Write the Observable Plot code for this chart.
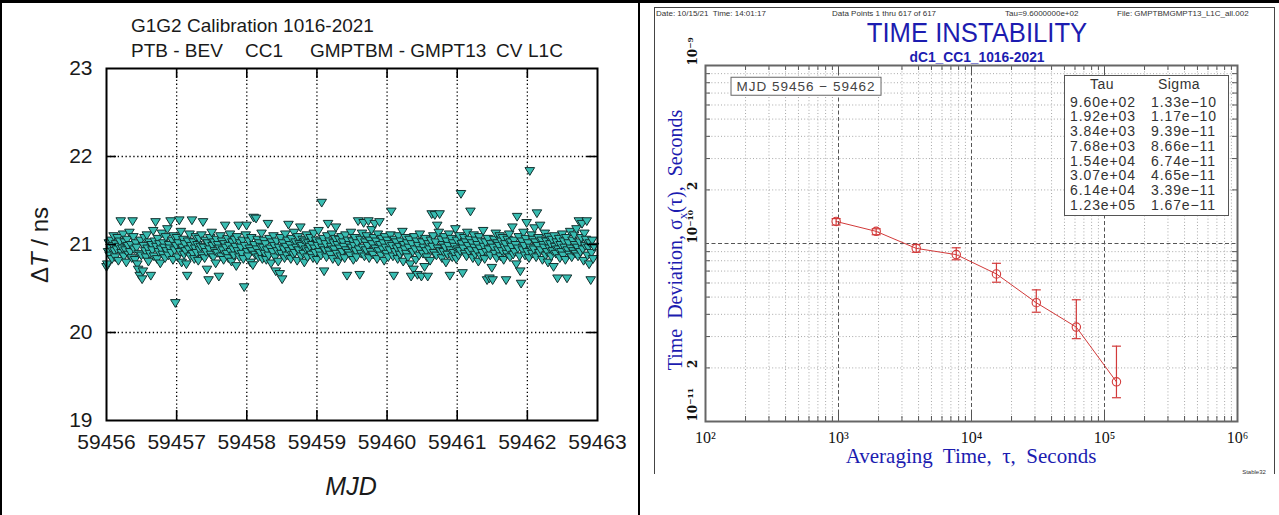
<!DOCTYPE html>
<html><head><meta charset="utf-8">
<script src="https://cdn.jsdelivr.net/npm/d3@7"></script>
<script src="https://cdn.jsdelivr.net/npm/@observablehq/plot@0.6"></script>
<style>
html,body{margin:0;padding:0;background:#fff;}
#wrap{position:relative;width:1279px;height:515px;overflow:hidden;background:#fff;font-family:"Liberation Sans",Arial,sans-serif;}
.t{position:absolute;white-space:pre;line-height:1;}
.line{position:absolute;background:#000;}
#wrap svg{position:absolute;top:0;}
</style></head><body><div id="wrap"></div>
<script>
// ---------- Left chart data ----------
const leftTitle = "G1G2 Calibration 1016-2021";
const leftSubParts = ["PTB - BEV", "CC1", "GMPTBM - GMPT13", "CV", "L1C"];
const mjdStart = 59456.0;     // first sample (MJD)
const mjdStep = 0.01128;      // sample spacing (days)
const mjdTicks = [59456, 59457, 59458, 59459, 59460, 59461, 59462, 59463];
const dTTicks = [19, 20, 21, 22, 23];
const dT = [
20.75,20.78,20.92,21.02,20.88,20.97,21.05,20.84,20.99,21.10,20.93,20.86,21.01,20.95,21.08,20.82,20.98,21.04,21.27,20.91,
20.96,21.12,20.87,21.03,20.94,20.80,21.06,20.99,20.89,21.14,20.92,21.00,20.85,21.27,21.09,20.95,20.83,21.02,20.97,20.78,
20.72,20.90,20.65,21.05,20.88,20.61,20.70,20.99,21.08,20.93,20.86,21.11,20.96,20.81,21.03,20.90,20.65,21.00,20.94,21.16,
20.87,21.04,21.26,20.98,20.84,21.07,20.92,21.01,20.79,20.95,21.13,20.89,21.02,20.97,20.85,21.09,20.93,21.18,20.88,21.00,
20.96,21.27,20.91,21.05,20.83,21.10,20.94,20.34,20.99,21.08,20.86,21.02,21.28,20.92,21.15,20.80,20.97,21.06,20.89,21.01,
20.93,20.78,20.65,21.04,20.95,21.12,20.87,20.99,21.28,20.90,21.03,20.84,20.96,21.09,20.91,21.00,20.82,21.07,20.94,20.98,
21.11,20.88,21.26,20.97,20.85,21.05,20.92,20.72,21.02,20.60,20.95,21.08,20.89,21.14,20.99,20.86,21.03,20.93,20.79,21.06,
20.91,21.00,20.64,20.96,21.10,20.87,21.04,20.94,20.83,21.01,21.22,20.97,20.90,21.07,20.85,20.99,21.12,20.92,20.81,21.03,
20.95,20.88,21.06,20.98,20.76,21.09,20.93,21.22,20.86,21.02,20.97,20.90,21.05,20.84,20.52,20.99,21.11,21.22,20.92,20.87,
21.04,20.96,20.80,21.08,20.93,20.77,21.31,21.00,20.89,21.30,20.95,21.06,20.86,21.02,20.91,20.98,21.13,20.84,20.97,21.05,
20.90,21.01,20.83,20.94,21.24,20.88,21.07,20.96,20.79,21.03,20.92,21.10,20.99,20.86,20.70,21.04,20.93,20.81,20.97,20.67,
21.08,20.90,20.61,21.02,20.95,20.85,21.12,20.98,20.88,21.05,21.23,20.93,21.00,20.84,21.07,20.96,20.89,21.14,20.91,21.03,
20.97,20.82,21.09,20.94,21.01,21.20,20.87,20.99,21.06,20.90,20.80,21.04,20.95,21.11,20.86,21.02,20.93,20.98,21.08,20.89,
21.00,20.85,21.13,20.96,20.91,21.05,20.83,20.99,21.16,20.92,21.03,20.88,21.48,20.97,21.07,20.70,20.94,21.01,20.86,21.10,
21.24,20.93,21.04,20.89,20.98,21.12,20.84,21.02,20.95,21.07,21.20,20.90,21.00,20.81,21.06,20.96,20.87,21.09,20.92,21.03,
20.98,20.85,21.11,20.94,20.65,21.05,20.91,21.00,20.88,21.14,20.97,21.04,20.83,20.99,21.08,20.93,20.86,21.02,21.27,20.95,
20.66,21.06,20.90,21.13,20.97,21.25,20.87,21.03,20.94,21.10,20.99,21.27,20.85,21.05,20.92,21.17,21.01,20.89,21.08,21.24,
20.96,21.04,20.84,21.12,20.93,21.26,21.00,20.88,21.07,20.95,21.02,20.82,21.09,20.97,20.90,21.05,20.86,21.01,20.94,21.11,
21.38,20.99,20.87,20.65,21.06,20.92,21.03,20.96,20.84,21.10,20.98,20.89,21.04,20.93,21.15,20.81,21.00,20.95,21.08,20.90,
21.02,20.86,20.97,21.06,20.78,20.64,21.01,20.92,20.72,21.09,20.95,20.83,21.04,20.66,20.99,20.88,21.12,20.94,20.64,21.03,
20.90,20.97,20.75,21.07,20.93,20.86,20.64,21.01,20.95,20.82,21.05,21.35,20.98,21.10,20.91,21.34,21.03,20.88,21.22,20.96,
21.14,21.35,20.93,21.06,20.85,21.00,20.92,21.09,20.97,20.80,21.04,20.89,20.99,21.12,20.65,20.94,21.07,20.86,21.02,20.91,
20.98,21.18,20.84,21.05,20.95,20.88,21.10,20.93,21.58,21.01,20.68,20.96,21.08,20.90,21.03,20.87,21.14,20.99,20.92,21.06,
21.38,20.94,21.02,20.85,21.11,20.97,20.89,21.05,20.93,21.00,20.81,21.09,20.96,20.87,21.04,20.91,21.16,20.98,20.84,21.03,
20.92,20.60,21.07,20.95,20.62,20.88,21.01,20.74,20.60,20.97,21.06,20.90,21.13,20.85,21.02,20.94,20.99,21.10,20.87,21.04,
20.93,21.08,20.83,20.97,21.01,20.60,20.90,21.06,20.95,21.12,20.86,21.03,20.98,21.20,20.89,21.05,20.92,21.00,20.78,21.32,
20.96,21.09,20.87,20.70,20.56,21.04,20.94,21.14,20.99,20.88,21.07,21.25,20.92,21.02,20.85,21.84,20.97,21.11,20.90,21.06,
20.95,21.19,21.03,20.86,21.36,20.99,21.08,20.91,21.22,20.94,21.05,20.83,21.00,20.97,21.13,20.88,21.04,20.92,20.80,21.09,
20.96,21.01,20.87,21.06,20.93,20.75,21.10,20.98,20.90,21.03,20.62,20.95,21.07,20.85,21.00,20.92,21.12,20.88,21.04,20.97,
20.83,21.08,20.62,20.94,21.02,20.89,21.15,20.96,20.86,21.05,20.93,21.11,21.00,20.90,21.18,20.97,20.87,21.27,21.03,20.92,
21.08,21.24,20.95,20.82,21.13,20.99,21.06,21.27,20.88,20.97,20.78,21.02,20.60,20.91,21.05,20.84,20.98
];

// ---------- Right chart data ----------
const tau = [960, 1920, 3840, 7680, 15400, 30700, 61400, 123000];
const sigma = [1.33e-10, 1.17e-10, 9.39e-11, 8.66e-11, 6.74e-11, 4.65e-11, 3.39e-11, 1.67e-11];
const sigmaHi = [1.38e-10, 1.21e-10, 9.87e-11, 9.46e-11, 7.74e-11, 5.49e-11, 4.83e-11, 2.65e-11];
const sigmaLo = [1.27e-10, 1.12e-10, 8.93e-11, 8.10e-11, 6.06e-11, 4.11e-11, 2.92e-11, 1.36e-11];
const tauTicks = [1e2, 1e3, 1e4, 1e5, 1e6];
const sigTickLabels = [[1e-9, "10⁻⁹"], [2e-10, "2"], [1e-10, "10⁻¹⁰"], [2e-11, "2"]];
const sigBottomLabel = [[1e-11, "10⁻¹¹"]];
const headerTexts = ["Date: 10/15/21  Time: 14:01:17", "Data Points 1 thru 617 of 617", "Tau=9.6000000e+02", "File: GMPTBMGMPT13_L1C_all.002"];
const rightTitle = "TIME INSTABILITY";
const rightSubtitle = "dC1_CC1_1016-2021";
const mjdRange = "MJD 59456 − 59462";

// ---------- helpers ----------
const wrap = document.getElementById("wrap");
function txt(html, x, y, css = {}, anchor = "c") {
  const d = document.createElement("div");
  d.className = "t";
  d.innerHTML = html;
  d.style.left = x + "px"; d.style.top = y + "px";
  const tr = anchor === "c" ? "translate(-50%,-50%)" : "translate(0,-50%)";
  d.style.transform = tr + (css.extra || "");
  delete css.extra;
  Object.assign(d.style, css);
  wrap.appendChild(d);
  return d;
}
function box(x, y, w, h, bg) {
  const d = document.createElement("div");
  d.className = "line";
  Object.assign(d.style, {left: x + "px", top: y + "px", width: w + "px", height: h + "px", background: bg});
  wrap.appendChild(d);
}

// ---------- Left chart ----------
const pts = dT.map((v, i) => ({mjd: mjdStart + i * mjdStep, v}));
const triDown = {
  draw(ctx, size) {
    const r = Math.sqrt(size / Math.PI);
    ctx.moveTo(-r, -0.62 * r);
    ctx.lineTo(r, -0.62 * r);
    ctx.lineTo(0, 1.0 * r);
    ctx.closePath();
  }
};
const LW = 640, LH = 515, LML = 106, LMR = 43, LMT = 68, LMB = 95;
const lpw = LW - LML - LMR, lph = LH - LMT - LMB;
const innerX = mjdTicks.slice(1, -1), innerY = dTTicks.slice(1, -1);
const dotted = {stroke: "#000", strokeWidth: 1.3, strokeDasharray: "1.3,2.6"};
const leftPlot = Plot.plot({
  width: LW, height: LH,
  marginLeft: LML, marginRight: LMR, marginTop: LMT, marginBottom: LMB,
  x: {domain: [59456, 59463]},
  y: {domain: [19, 23]},
  style: {fontFamily: "'Liberation Sans', Arial, sans-serif", background: "transparent", color: "#1a1a1a"},
  marks: [
    Plot.ruleX(innerX, {x: d => d, ...dotted}),
    Plot.ruleY(innerY, {y: d => d, ...dotted}),
    Plot.dot(pts, {x: "mjd", y: "v", symbol: triDown, r: 4.8, fill: "#38bdb2", stroke: "#12302e", strokeWidth: 1}),
    Plot.ruleX(innerX, {x: d => d, insetTop: lph - 10, stroke: "#000", strokeWidth: 1.6}),
    Plot.ruleX(innerX, {x: d => d, insetBottom: lph - 10, stroke: "#000", strokeWidth: 1.6}),
    Plot.ruleY(innerY, {y: d => d, insetRight: lpw - 10, stroke: "#000", strokeWidth: 1.6}),
    Plot.ruleY(innerY, {y: d => d, insetLeft: lpw - 10, stroke: "#000", strokeWidth: 1.6}),
    Plot.frame({stroke: "#000", strokeWidth: 2}),
    Plot.axisX({ticks: mjdTicks, tickFormat: d => String(d), tickSize: 0, tickPadding: 14, fontSize: 21, label: null}),
    Plot.axisY({ticks: dTTicks, tickFormat: d => String(d), tickSize: 0, tickPadding: 14, fontSize: 21, label: null})
  ]
});
leftPlot.style.left = "0px";
wrap.appendChild(leftPlot);

txt(leftTitle, 131, 25, {fontSize: "19px", color: "#1a1a1a"}, "l");
const subX = [131, 245, 310, 496, 528];
leftSubParts.forEach((s, i) => txt(s, subX[i], 50, {fontSize: "19px", color: "#1a1a1a"}, "l"));
txt("Δ<i>T</i> / ns", 40, 245, {fontSize: "24px", color: "#1a1a1a", extra: " rotate(-90deg)"});
txt("<i>MJD</i>", 351, 486, {fontSize: "25px", color: "#1a1a1a"});

// ---------- Right chart ----------
const RW = 639, RH = 515, RML = 65, RMR = 42, RMT = 65, RMB = 94;
const rpw = RW - RML - RMR, rph = RH - RMT - RMB;
const rows = tau.map((t, i) => ({tau: t, s: sigma[i], hi: sigmaHi[i], lo: sigmaLo[i]}));
const minorX = [], minorY = [];
for (let k = 2; k <= 5; k++) for (let m = 2; m <= 9; m++) minorX.push(m * 10 ** k);
for (let k = -11; k <= -10; k++) for (let m = 2; m <= 9; m++) minorY.push(+(m * 10 ** k).toPrecision(3));
const majorX = [1e3, 1e4, 1e5], majorY = [1e-10];
const cap = {draw(ctx) { ctx.moveTo(-4.5, 0); ctx.lineTo(4.5, 0); }};
const sup = {"2": "²", "3": "³", "4": "⁴", "5": "⁵", "6": "⁶"};
const serif = "'Liberation Serif', 'Times New Roman', serif";
const red = "#d23a3a";
const rightPlot = Plot.plot({
  width: RW, height: RH,
  marginLeft: RML, marginRight: RMR, marginTop: RMT, marginBottom: RMB,
  x: {type: "log", domain: [1e2, 1e6]},
  y: {type: "log", domain: [1e-11, 1e-9]},
  style: {fontFamily: serif, background: "transparent", color: "#111"},
  marks: [
    Plot.ruleX(minorX, {x: d => d, stroke: "#a8a8a8", strokeWidth: 1, strokeDasharray: "1,2.2"}),
    Plot.ruleY(minorY, {y: d => d, stroke: "#a8a8a8", strokeWidth: 1, strokeDasharray: "1,2.2"}),
    Plot.ruleX(majorX, {x: d => d, stroke: "#555", strokeWidth: 1, strokeDasharray: "4,2.5"}),
    Plot.ruleY(majorY, {y: d => d, stroke: "#555", strokeWidth: 1, strokeDasharray: "4,2.5"}),
    Plot.ruleX(minorX, {x: d => d, insetTop: rph - 5, stroke: "#555"}),
    Plot.ruleX(minorX, {x: d => d, insetBottom: rph - 5, stroke: "#555"}),
    Plot.ruleX(majorX, {x: d => d, insetTop: rph - 9, stroke: "#555"}),
    Plot.ruleX(majorX, {x: d => d, insetBottom: rph - 9, stroke: "#555"}),
    Plot.ruleY(minorY, {y: d => d, insetRight: rpw - 5, stroke: "#555"}),
    Plot.ruleY(minorY, {y: d => d, insetLeft: rpw - 5, stroke: "#555"}),
    Plot.frame({stroke: "#666", strokeWidth: 2}),
    Plot.line(rows, {x: "tau", y: "s", stroke: red, strokeWidth: 1}),
    Plot.ruleX(rows, {x: "tau", y1: "lo", y2: "hi", stroke: red, strokeWidth: 1.2}),
    Plot.dot(rows, {x: "tau", y: "hi", symbol: cap, r: 3, stroke: red, strokeWidth: 1.2}),
    Plot.dot(rows, {x: "tau", y: "lo", symbol: cap, r: 3, stroke: red, strokeWidth: 1.2}),
    Plot.dot(rows, {x: "tau", y: "s", r: 4.2, stroke: red, fill: "none", strokeWidth: 1.1}),
    Plot.axisX({ticks: tauTicks, tickFormat: d => "10" + sup[String(Math.round(Math.log10(d)))], tickSize: 0, tickPadding: 10, fontSize: 16, label: null}),
    Plot.axisY({ticks: [], label: null}),
    Plot.text(sigTickLabels, {y: d => d[0], text: d => d[1], frameAnchor: "left", dx: -12, rotate: -90, fontSize: 12, fontWeight: "bold", fontFamily: "'DejaVu Serif', serif", fill: "#111"}),
    Plot.text(sigBottomLabel, {y: d => d[0], text: d => d[1], frameAnchor: "left", dx: -12, rotate: -90, textAnchor: "start", fontSize: 12, fontWeight: "bold", fontFamily: "'DejaVu Serif', serif", fill: "#111"})
  ]
});
rightPlot.style.left = "640px";
wrap.appendChild(rightPlot);

// header
const hx = [656, 832, 1005, 1117];
headerTexts.forEach((s, i) => txt(s, hx[i], 14, {fontSize: "8px", color: "#333"}, "l"));
const blue = "#1c1cb0";
txt(rightTitle, 977, 33, {fontSize: "27px", color: blue, extra: " scaleX(0.95)"});
txt(rightSubtitle, 977, 55.5, {fontSize: "15px", fontWeight: "bold", color: blue, extra: " scaleX(0.92)"});
txt("Time&nbsp; Deviation, σ<sub style='font-size:13px'>x</sub>(τ), &nbsp;Seconds", 677, 240, {fontSize: "20px", fontFamily: serif, color: blue, extra: " rotate(-90deg)"});
txt("Averaging&nbsp; Time, &nbsp;τ, &nbsp;Seconds", 971, 456, {fontSize: "21px", fontFamily: serif, color: blue});
txt("Stable32", 1254, 472, {fontSize: "6px", color: "#333"});

// MJD range box
txt(mjdRange, 806, 86, {fontSize: "13.5px", color: "#444", letterSpacing: "1px", border: "1px solid #666", background: "#fff", padding: "2px 5px 1px 5px"});

// Table box
const tb = document.createElement("div");
Object.assign(tb.style, {position: "absolute", left: "1064px", top: "75px", width: "163px", height: "139px", border: "1px solid #555", background: "#fff"});
wrap.appendChild(tb);
const fmtE = v => { const [m, e] = v.toExponential(2).split("e"); const sgn = e[0] === "-" ? "−" : "+"; const n = e.replace(/[+-]/, ""); return m + "e" + sgn + n.padStart(2, "0"); };
txt("Tau", 1102, 84, {fontSize: "14px", color: "#333", letterSpacing: "0.5px"});
txt("Sigma", 1179, 84, {fontSize: "14px", color: "#333", letterSpacing: "0.5px"});
tau.forEach((t, i) => {
  const y = 101.7 + i * 14.7;
  txt(fmtE(t), 1070, y, {fontSize: "14px", color: "#333", letterSpacing: "0.9px"}, "l");
  txt(fmtE(sigma[i]), 1151, y, {fontSize: "14px", color: "#333", letterSpacing: "0.9px"}, "l");
});

// borders
box(0, 0, 1279, 3, "#000");
box(0, 0, 2, 515, "#000");
box(638, 0, 2, 515, "#000");
box(654, 7, 1, 467, "#444");
box(654, 7, 621, 1, "#444");
box(1274, 7, 1, 467, "#444");
</script></body></html>
